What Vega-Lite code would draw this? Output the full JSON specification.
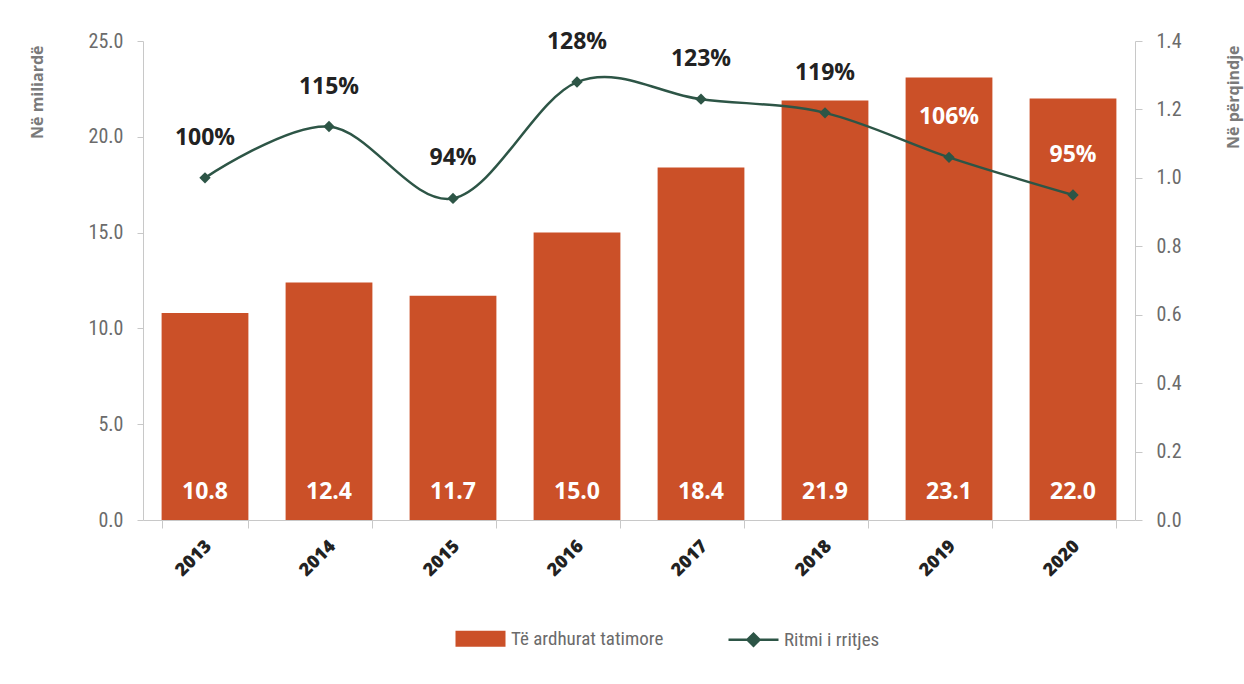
{
  "$schema": "https://vega.github.io/schema/vega-lite/v6.json",
  "width": 992,
  "height": 479,
  "autosize": {"type": "none"},
  "padding": {"left": 143, "top": 41, "right": 109, "bottom": 164},
  "background": "white",
  "config": {
    "view": {"stroke": null},
    "axis": {
      "domainColor": "#c8c8c8",
      "tickColor": "#c8c8c8",
      "grid": false,
      "labelFont": "Roboto Condensed, Roboto, sans-serif",
      "labelColor": "#6b6b6b",
      "labelFontSize": 20,
      "titleFont": "Open Sans",
      "titleFontWeight": "bold",
      "titleColor": "#7a7a7a",
      "titleFontSize": 16
    }
  },
  "data": {
    "values": [
      {"year": "2013", "revenue": 10.8, "growth": 1.00, "growthLabel": "100%"},
      {"year": "2014", "revenue": 12.4, "growth": 1.15, "growthLabel": "115%"},
      {"year": "2015", "revenue": 11.7, "growth": 0.94, "growthLabel": "94%"},
      {"year": "2016", "revenue": 15.0, "growth": 1.28, "growthLabel": "128%"},
      {"year": "2017", "revenue": 18.4, "growth": 1.23, "growthLabel": "123%"},
      {"year": "2018", "revenue": 21.9, "growth": 1.19, "growthLabel": "119%"},
      {"year": "2019", "revenue": 23.1, "growth": 1.06, "growthLabel": "106%"},
      {"year": "2020", "revenue": 22.0, "growth": 0.95, "growthLabel": "95%"}
    ]
  },
  "encoding": {
    "x": {
      "field": "year",
      "type": "ordinal",
      "scale": {"paddingInner": 0.3, "paddingOuter": 0.15},
      "axis": {
        "title": null,
        "labelAngle": -45,
        "labelFont": "Open Sans",
        "labelFontWeight": 800,
        "labelFontSize": 18,
        "labelColor": "#222222",
        "tickBand": "extent",
        "tickSize": 8,
        "labelPadding": 9,
        "labelOffset": -3
      }
    }
  },
  "layer": [
    {
      "encoding": {
        "y": {
          "field": "revenue",
          "type": "quantitative",
          "scale": {"domain": [0, 25]},
          "axis": {
            "orient": "left",
            "values": [0, 5, 10, 15, 20, 25],
            "format": ".1f",
            "tickSize": 6,
            "labelPadding": 14,
            "title": "Në miliardë",
            "titleAngle": -90,
            "titleAlign": "right",
            "titleBaseline": "middle",
            "titleX": -106,
            "titleY": 4
          }
        }
      },
      "layer": [
        {
          "mark": {"type": "bar", "color": "#cb5028"},
          "encoding": {
            "color": {
              "datum": "Të ardhurat tatimore",
              "type": "nominal",
              "scale": {
                "domain": ["Të ardhurat tatimore", "Ritmi i rritjes"],
                "range": ["#cb5028", "#2d5546"]
              },
              "legend": {
                "title": null,
                "orient": "none",
                "legendX": 311,
                "legendY": 571,
                "direction": "horizontal",
                "columns": 2,
                "columnPadding": 59,
                "labelFont": "Roboto Condensed, Roboto, sans-serif",
                "labelFontSize": 19,
                "labelColor": "#6b6b6b",
                "labelOffset": 4,
                "labelLimit": 0,
                "symbolSize": 2500,
                "symbolStrokeWidth": 2.5,
                "encode": {
                  "symbols": {
                    "update": {
                      "shape": {"signal": "datum.value === 'Ritmi i rritjes' ? 'M-1,0L1,0M-0.24,0L0,-0.24L0.24,0L0,0.24Z' : 'M-1,-0.32L1,-0.32L1,0.32L-1,0.32Z'"},
                      "fill": {"signal": "datum.value === 'Ritmi i rritjes' ? '#2d5546' : '#cb5028'"},
                      "stroke": {"signal": "datum.value === 'Ritmi i rritjes' ? '#2d5546' : 'transparent'"},
                      "strokeWidth": {"value": 2.5},
                      "opacity": {"value": 1}
                    }
                  }
                }
              }
            }
          }
        },
        {
          "mark": {
            "type": "text",
            "font": "Open Sans",
            "fontWeight": "bold",
            "fontSize": 23,
            "color": "white",
            "baseline": "middle",
            "dy": -28
          },
          "encoding": {
            "y": {"datum": 0},
            "text": {"field": "revenue", "type": "quantitative", "format": ".1f"}
          }
        }
      ]
    },
    {
      "encoding": {
        "y": {
          "field": "growth",
          "type": "quantitative",
          "scale": {"domain": [0, 1.4]},
          "axis": {
            "orient": "right",
            "values": [0, 0.2, 0.4, 0.6, 0.8, 1.0, 1.2, 1.4],
            "format": ".1f",
            "tickSize": 7,
            "labelPadding": 14,
            "title": "Në përqindje",
            "titleAngle": -90,
            "titleAlign": "right",
            "titleBaseline": "middle",
            "titleX": 98,
            "titleY": 4
          }
        }
      },
      "layer": [
        {
          "mark": {
            "type": "line",
            "color": "#2d5546",
            "strokeWidth": 2.5,
            "interpolate": "cardinal",
            "point": {"shape": "diamond", "size": 130, "filled": true, "color": "#2d5546", "opacity": 1}
          },
          "encoding": {}
        },
        {
          "mark": {
            "type": "text",
            "font": "Open Sans",
            "fontWeight": "bold",
            "fontSize": 23,
            "baseline": "middle",
            "dy": -40
          },
          "encoding": {
            "text": {"field": "growthLabel"},
            "color": {
              "condition": {"test": "toNumber(datum.year) >= 2019", "value": "white"},
              "value": "#222222"
            }
          }
        }
      ]
    }
  ],
  "resolve": {"scale": {"y": "independent"}}
}
